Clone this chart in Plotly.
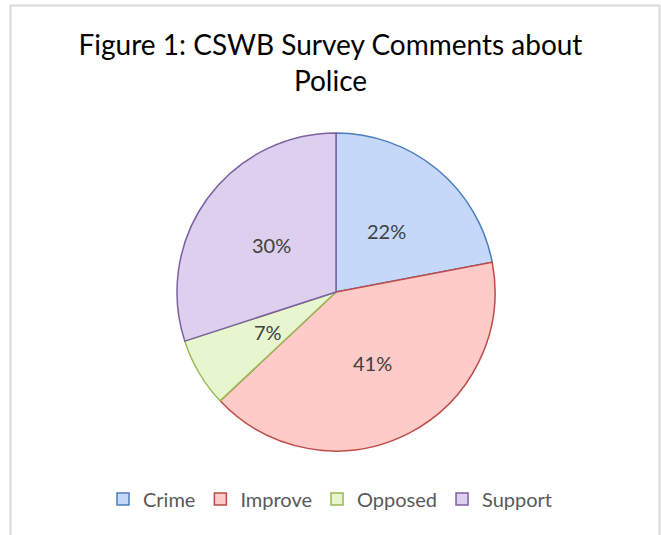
import math
import plotly.graph_objects as go

categories = ["Crime", "Improve", "Opposed", "Support"]
values = [22, 41, 7, 30]
fill_colors = ["#c5d8f9", "#ffcbc9", "#e8f6d0", "#dcd0ee"]
line_colors = ["#4a7ebb", "#be4b48", "#98b954", "#7d60a0"]

W, H = 661, 535
cx, cy, r = 336, 292, 159

fig = go.Figure(go.Pie(
    labels=categories,
    values=values,
    sort=False,
    direction="clockwise",
    rotation=0,
    marker=dict(colors=fill_colors, line=dict(color=line_colors, width=1.5)),
    textinfo="none",
    domain=dict(x=[(cx - r) / W, (cx + r) / W], y=[(H - cy - r) / H, (H - cy + r) / H]),
    hoverinfo="label+percent",
))

# percent labels placed at the mid-angle of each slice, half-way out
total = sum(values)
annotations = []
cum = 0
for v in values:
    mid = (cum + v / 2) / total * 2 * math.pi
    cum += v
    px = cx + 0.5 * r * math.sin(mid)
    py = cy - 0.5 * r * math.cos(mid)
    annotations.append(dict(
        x=px / W, y=(H - py) / H, xref="paper", yref="paper",
        text=f"{round(v / total * 100)}%", showarrow=False,
        font=dict(family="Lato", size=20, color="#404040"),
        xanchor="center", yanchor="middle",
    ))

fig.update_layout(
    width=W, height=H,
    margin=dict(l=0, r=0, t=0, b=0),
    paper_bgcolor="white",
    title=dict(
        text="Figure 1: CSWB Survey Comments about<br>Police",
        x=0.5, xanchor="center",
        y=1 - 55 / H, yanchor="top",
        font=dict(family="Lato", size=28, color="#000000"),
    ),
    legend=dict(
        orientation="h", x=0.5, xanchor="center",
        y=(H - 499) / H, yanchor="middle",
        font=dict(family="Lato", size=20, color="#595959"),
        itemwidth=30,
    ),
    annotations=annotations,
    shapes=[dict(
        type="rect", xref="paper", yref="paper",
        x0=10.5 / W, x1=659.5 / W, y0=-0.05, y1=1 - 5.5 / H,
        line=dict(color="#d9d9d9", width=2),
    )],
)

fig.write_html("out.html")
